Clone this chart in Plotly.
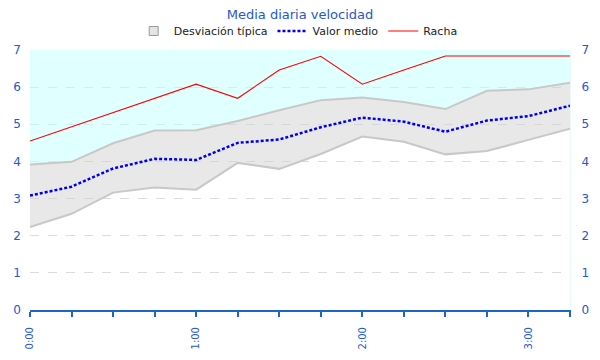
import plotly.graph_objects as go

# ---- data ----
minutes = [0, 15, 30, 45, 60, 75, 90, 105, 120, 135, 150, 165, 180, 195]
tick_labels = ["0:00", "", "", "", "1:00", "", "", "", "2:00", "", "", "", "3:00", ""]
std_upper = [3.92, 3.99, 4.49, 4.83, 4.84, 5.09, 5.38, 5.65, 5.72, 5.60, 5.41, 5.90, 5.94, 6.12]
std_lower = [2.23, 2.59, 3.16, 3.30, 3.24, 3.96, 3.80, 4.20, 4.67, 4.53, 4.19, 4.28, 4.58, 4.88]
mean_speed = [3.08, 3.32, 3.81, 4.07, 4.04, 4.50, 4.59, 4.92, 5.18, 5.07, 4.80, 5.10, 5.22, 5.50]
gust = [4.55, 4.93, 5.31, 5.69, 6.08, 5.70, 6.46, 6.83, 6.08, 6.46, 6.84, 6.84, 6.84, 6.84]
Y_MAX = 7
y_top = [Y_MAX] * len(minutes)

FONT = "DejaVu Sans"
BLUE_TXT = "#2458d0"
H = 360

fig = go.Figure()

# legend-only square for the std band
fig.add_trace(go.Scatter(
    x=[None], y=[None], mode="markers", name="Desviación típica",
    marker=dict(symbol="square", size=9, color="#e4e4e4",
                line=dict(color="#9a9a9a", width=1))))
# std band lower edge
fig.add_trace(go.Scatter(
    x=minutes, y=std_lower, mode="lines",
    line=dict(color="#c8c8c8", width=2),
    showlegend=False, hoverinfo="skip"))
# std band upper edge + fill
fig.add_trace(go.Scatter(
    x=minutes, y=std_upper, mode="lines", name="Desviación típica",
    line=dict(color="#c8c8c8", width=2),
    fill="tonexty", fillcolor="rgba(209,209,209,0.5)", showlegend=False))
# cyan area above band
fig.add_trace(go.Scatter(
    x=minutes, y=y_top, mode="lines",
    line=dict(width=0, color="rgba(0,0,0,0)"),
    fill="tonexty", fillcolor="rgba(193,255,255,0.5)",
    showlegend=False, hoverinfo="skip"))
# mean
fig.add_trace(go.Scatter(
    x=minutes, y=mean_speed, mode="lines", name="Valor medio",
    line=dict(color="#0000ee", width=2.5, dash="3px,2px")))
# gust
fig.add_trace(go.Scatter(
    x=minutes, y=gust, mode="lines", name="Racha",
    line=dict(color="#ff0000", width=1.1)))
# mirrored right axis
fig.add_trace(go.Scatter(
    x=minutes, y=gust, mode="lines", yaxis="y2",
    line=dict(width=0, color="rgba(0,0,0,0)"),
    showlegend=False, hoverinfo="skip"))

fig.update_layout(
    width=600, height=H,
    margin=dict(l=22, r=38, t=42, b=58, autoexpand=False),
    paper_bgcolor="white", plot_bgcolor="white",
    font=dict(family=FONT, size=11, color="#222222"),
    title=dict(text="Media diaria velocidad", x=0.5 - 8 / 600, xanchor="center",
               y=1 - 6 / H, yanchor="middle", yref="container",
               font=dict(family=FONT, size=13, color=BLUE_TXT)),
    legend=dict(orientation="h", x=0.5 - 2 / 600, xanchor="center", y=1 - 23 / H,
                yref="container", yanchor="middle",
                font=dict(family=FONT, size=11, color="#222222"),
                bgcolor="rgba(0,0,0,0)", itemwidth=30,
                traceorder="normal"),
    showlegend=True,
    xaxis=dict(
        range=[minutes[0], minutes[-1]], automargin=False,
        tickmode="array", tickvals=minutes, ticktext=tick_labels,
        tickangle=-90, ticks="outside", ticklen=5, tickwidth=1.5,
        tickcolor="#1a66cc", ticklabelstandoff=6,
        showline=True, linecolor="#1a66cc", linewidth=2,
        showgrid=False, zeroline=False,
        tickfont=dict(family=FONT, size=10, color=BLUE_TXT)),
    yaxis=dict(
        range=[0, Y_MAX], dtick=1, tick0=0, automargin=False,
        showgrid=True, gridcolor="#dcdcdc", griddash="dash", gridwidth=1,
        zeroline=False, showline=False, ticks="", ticklabelstandoff=8,
        tickfont=dict(family=FONT, size=12, color=BLUE_TXT)),
    yaxis2=dict(
        range=[0, Y_MAX], dtick=1, tick0=0, overlaying="y", side="right",
        automargin=False, ticklabelstandoff=8,
        showgrid=False, zeroline=False, showline=True, linecolor="#e8fbfb",
        ticks="",
        tickfont=dict(family=FONT, size=12, color=BLUE_TXT)),
)

fig.write_html("out.html")
